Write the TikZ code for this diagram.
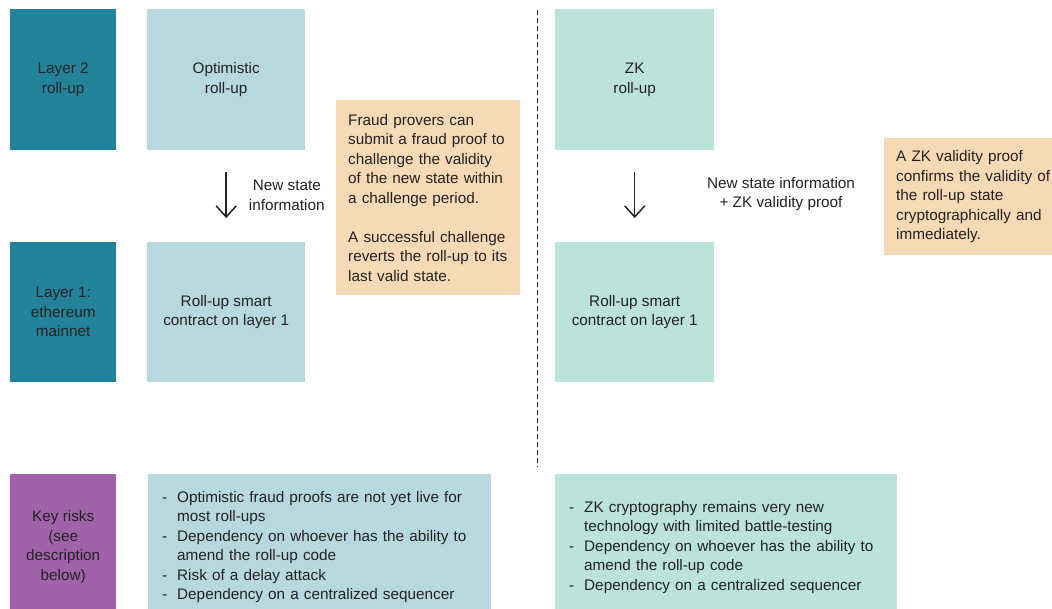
\documentclass[tikz,border=0pt]{standalone}
\usepackage{fontspec}
\setmainfont{Liberation Sans}
\usetikzlibrary{arrows.meta}
\definecolor{layerteal}{HTML}{23839A}
\definecolor{optblue}{HTML}{B8D8E0}
\definecolor{zkmint}{HTML}{BBE3D9}
\definecolor{notepeach}{HTML}{F8D9B5}
\definecolor{riskpurple}{HTML}{A063A9}
\definecolor{inkgray}{HTML}{222222}
\newcommand{\diagfont}{\fontsize{15.3}{19.5}\selectfont}
\begin{document}
\begin{tikzpicture}[x=1pt,y=-1pt,
	box/.style={anchor=north west, inner sep=0pt, align=center, text=inkgray, font=\diagfont},
	note/.style={box, fill=notepeach, align=left, inner xsep=12pt},
	risklist/.style={box, align=left, inner xsep=14pt},
	flow/.style={-{Straight Barb[length=11pt,width=20pt]}, line width=1.5pt, inkgray}]
	\useasboundingbox (0,0) rectangle (1052,608);

	% row labels
	\node[box, fill=layerteal, minimum width=106, minimum height=141] (l2) at (10,9) {Layer 2\\roll-up};
	\node[box, fill=layerteal, minimum width=106, minimum height=140] (l1) at (10,242) {Layer 1:\\ethereum\\mainnet};
	\node[box, fill=riskpurple, minimum width=106, minimum height=146] (risk) at (10,474) {Key risks\\(see\\description\\below)};

	% optimistic side
	\node[box, fill=optblue, minimum width=158, minimum height=141] (opt) at (147,9) {Optimistic\\roll-up};
	\node[box, fill=optblue, minimum width=158, minimum height=140] (optsc) at (147,242) {Roll-up smart\\contract on layer 1};
	\node[note, text width=160, minimum height=195] (fraud) at (336,100) {Fraud provers can\\submit a fraud proof to\\challenge the validity\\of the new state within\\a challenge period.\\[19.5pt]A successful challenge\\reverts the roll-up to its\\last valid state.};
	\draw[flow] ([yshift=-22]opt.south) -- node[right=22, box, anchor=west, align=center] (optlbl) {New state\\information} ([yshift=24]optsc.north);
	\node[risklist, fill=optblue, text width=315, minimum height=146] (optrisk) at (148,474) {%
		\begin{tabular}{@{}p{15pt}@{}l@{}}
		-&Optimistic fraud proofs are not yet live for\\
		&most roll-ups\\
		-&Dependency on whoever has the ability to\\
		&amend the roll-up code\\
		-&Risk of a delay attack\\
		-&Dependency on a centralized sequencer
		\end{tabular}};

	% divider
	\coordinate (divtop) at (537,10);
	\coordinate (divbot) at (537,467);
	\draw[dashed, dash pattern=on 5pt off 3pt, inkgray] (divtop) -- (divbot);

	% zk side
	\node[box, fill=zkmint, minimum width=159, minimum height=141] (zk) at (555,9) {ZK\\roll-up};
	\node[box, fill=zkmint, minimum width=159, minimum height=140] (zksc) at (555,242) {Roll-up smart\\contract on layer 1};
	\node[note, text width=165, minimum height=117] (valid) at (884,138) {A ZK validity proof\\confirms the validity of\\the roll-up state\\cryptographically and\\immediately.};
	\draw[flow] ([yshift=-22]zk.south) -- ([yshift=24]zksc.north);
	\node[box, anchor=center] (zklbl) at (781,194) {New state information\\+ ZK validity proof};
	\node[risklist, fill=zkmint, text width=314, minimum height=146] (zkrisk) at (555,474) {%
		\begin{tabular}{@{}p{15pt}@{}l@{}}
		-&ZK cryptography remains very new\\
		&technology with limited battle-testing\\
		-&Dependency on whoever has the ability to\\
		&amend the roll-up code\\
		-&Dependency on a centralized sequencer
		\end{tabular}};
\end{tikzpicture}
\end{document}
